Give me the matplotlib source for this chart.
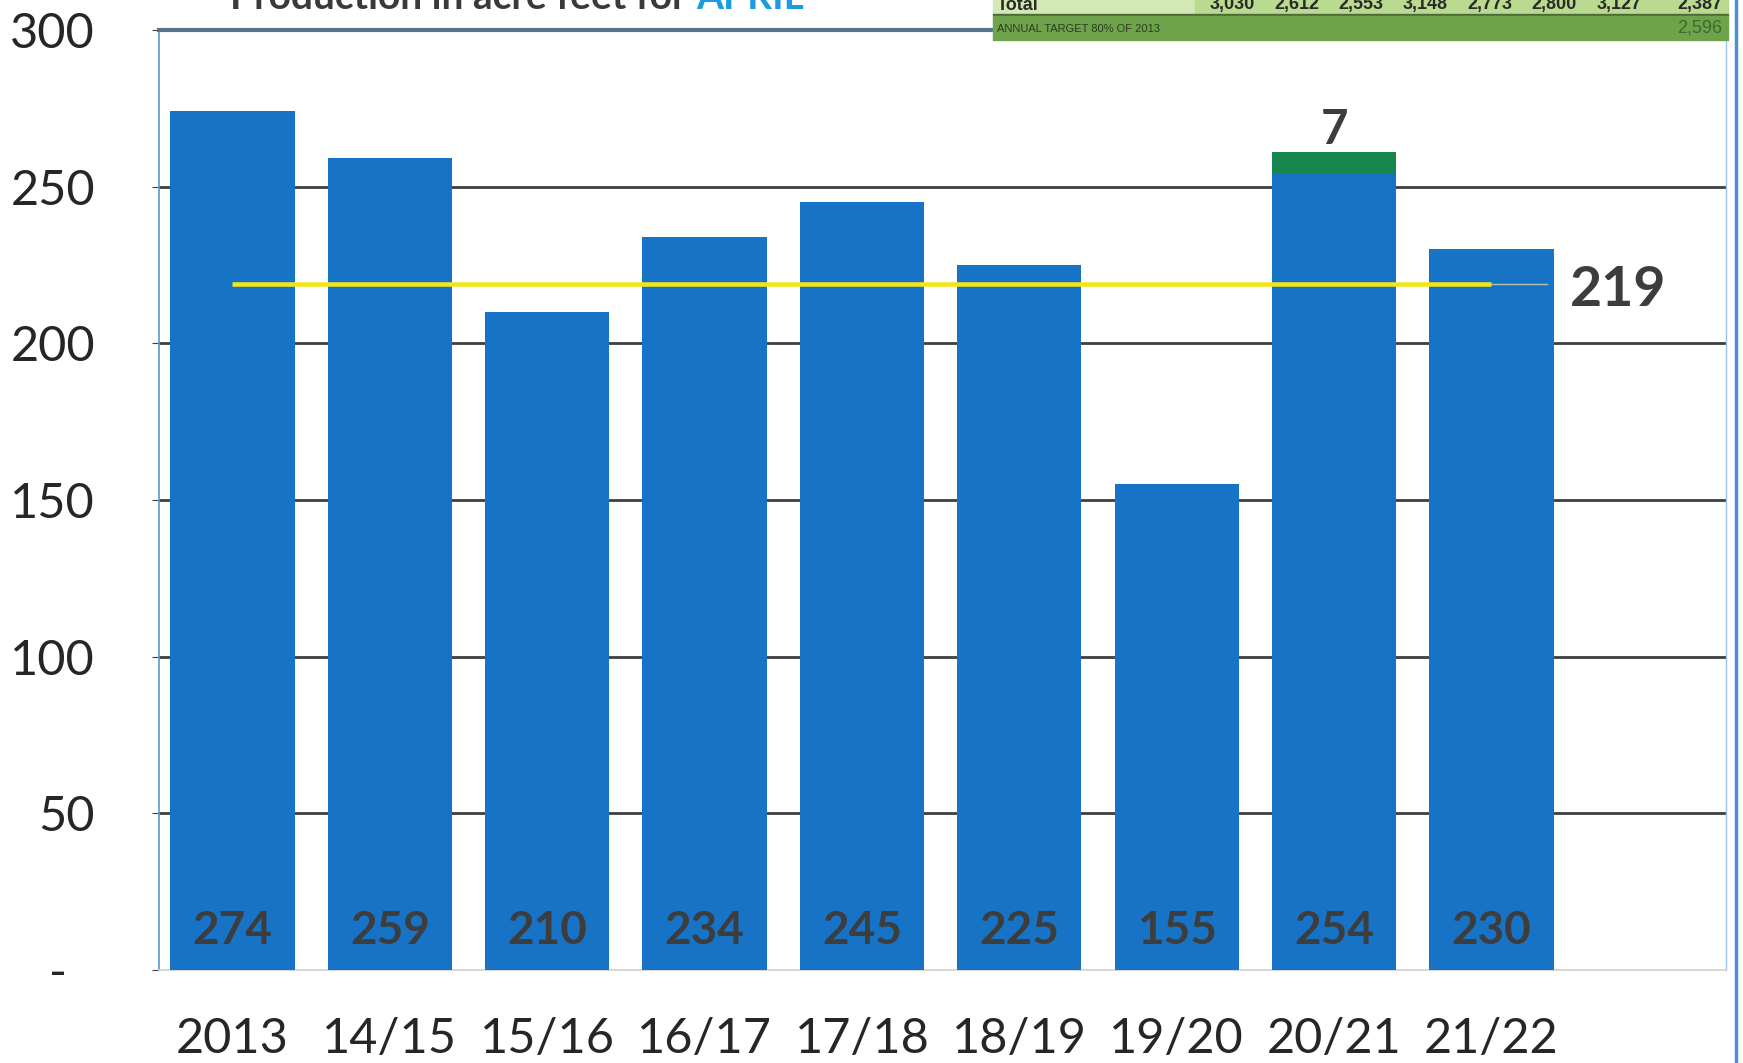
import matplotlib.pyplot as plt
from matplotlib.patches import Rectangle
from matplotlib.transforms import ScaledTranslation

# April production (acre feet) per season
seasons = ['2013', '14/15', '15/16', '16/17', '17/18', '18/19', '19/20', '20/21', '21/22']
april_af = [274, 259, 210, 234, 245, 225, 155, 254, 230]
extra_af = [0, 0, 0, 0, 0, 0, 0, 7, 0]
average_af = 219

y_ticks = [0, 50, 100, 150, 200, 250, 300]
y_tick_labels = ['-', '50', '100', '150', '200', '250', '300']

# bits of the overlapping table in the top right corner
table_totals = ['3,030', '2,612', '2,553', '3,148', '2,773', '2,800', '3,127', '2,387']
target_label = 'ANNUAL TARGET 80% OF 2013'
target_value = '2,596'

plt.rcParams['font.family'] = ['Lato', 'DejaVu Sans']

W, H = 1743, 1063
fig = plt.figure(figsize=(W / 100, H / 100), dpi=100)
ax = fig.add_axes([159 / W, 1 - 970 / H, (1726 - 159) / W, (970 - 30) / H])

blue = '#1673c5'
green = '#17864d'
dark = '#3d3d3d'

x = list(range(len(seasons)))
ax.bar(x, april_af, width=0.79, color=blue, zorder=3)
ax.bar(x, extra_af, width=0.79, bottom=april_af, color=green, zorder=3)

ax.set_xlim(-0.466, 9.49)
ax.set_ylim(0, 300)

# average line
ax.plot([0, 8], [average_af, average_af], color='#f2e51e', lw=3.3, zorder=4,
        solid_capstyle='butt')
ax.plot([8, 8.35], [average_af, average_af], color='#b8c4b0', lw=1, zorder=4)
ax.text(8.5, average_af - 2, str(average_af), fontsize=40, fontweight='bold',
        color=dark, va='center', ha='left')

# value labels inside bars
for xi, v in zip(x, april_af):
    ax.text(xi, 12.3, str(v), fontsize=33, fontweight='bold', color=dark,
            ha='center', va='center', zorder=5)
for xi, v, e in zip(x, april_af, extra_af):
    if e:
        ax.text(xi, v + e + 7, str(e), fontsize=34, fontweight='bold',
                color=dark, ha='center', va='center')

ax.set_yticks(y_ticks)
ax.set_yticklabels(y_tick_labels, fontsize=35, color='#262626')
ax.set_xticks(x)
ax.set_xticklabels(seasons, fontsize=35, color='#262626')
ax.tick_params(axis='y', length=5, color='#404040', pad=41)
ax.tick_params(axis='x', length=0, pad=34)

# accounting-style dash for zero sits further left of the axis
zero_lab = ax.get_yticklabels()[0]
zero_lab.set_transform(zero_lab.get_transform() +
                       ScaledTranslation(-0.28, 0, fig.dpi_scale_trans))

for yv in y_ticks[1:-1]:
    ax.axhline(yv, color='#3f3f3f', lw=2, zorder=1)

ax.spines['top'].set_color('#55758f')
ax.spines['top'].set_linewidth(3)
ax.spines['left'].set_color('#5b95d8')
ax.spines['left'].set_linewidth(1.2)
ax.spines['right'].set_color('#9cc3ea')
ax.spines['right'].set_linewidth(1)
ax.spines['bottom'].set_color('#cfcfcf')
ax.spines['bottom'].set_linewidth(1.2)

# outer blue border on the right
fig.add_artist(plt.Line2D([1736 / W, 1736 / W], [0, 1], color='#4a90d9', lw=2.5))

# title, mostly cut off at the top (as in the scanned original)
title_y = 1 - 9 / H
t1 = fig.text(230 / W, title_y, 'Production in acre feet for ', fontsize=28,
              fontweight='bold', color='#3a3a3a', va='baseline', ha='left')
fig.canvas.draw()
bb = t1.get_window_extent()
fig.text(bb.x1 / W, title_y, 'APRIL', fontsize=28, fontweight='bold',
         color='#1b9be0', va='baseline', ha='left')

# overlapping table strip
def fy(px):
    return 1 - px / H

fig.patches.append(Rectangle((993 / W, fy(14)), (1195 - 993) / W, 14 / H,
                             transform=fig.transFigure, color='#d3e9b5', zorder=6))
fig.patches.append(Rectangle((1195 / W, fy(14)), (1728 - 1195) / W, 14 / H,
                             transform=fig.transFigure, color='#b9da8f', zorder=6))
fig.patches.append(Rectangle((993 / W, fy(16)), (1728 - 993) / W, 2 / H,
                             transform=fig.transFigure, color='#4d6b3a', zorder=6))
fig.patches.append(Rectangle((993 / W, fy(40)), (1728 - 993) / W, 24 / H,
                             transform=fig.transFigure, color='#6ea34c', zorder=6))

fig.text(997 / W, fy(5), 'Total', fontsize=13, fontweight='bold', color='#2a2a2a',
         family='Liberation Sans', ha='left', va='center', zorder=7)
for i, val in enumerate(table_totals[:-1]):
    fig.text((1232 + i * 64.5) / W, fy(5), val, fontsize=13, fontweight='bold',
             color='#2a2a2a', family='Liberation Sans', ha='center', va='center',
             zorder=7)
fig.text(1722 / W, fy(5), table_totals[-1], fontsize=13, fontweight='bold',
         color='#2a2a2a', family='Liberation Sans', ha='right', va='center', zorder=7)
fig.text(997 / W, fy(29), target_label, fontsize=8, color='#2d3a22',
         family='Liberation Sans', ha='left', va='center', zorder=7)
fig.text(1722 / W, fy(28), target_value, fontsize=13, color='#3f6a2c',
         family='Liberation Sans', ha='right', va='center', zorder=7)

fig.savefig('out.png', dpi=100)
